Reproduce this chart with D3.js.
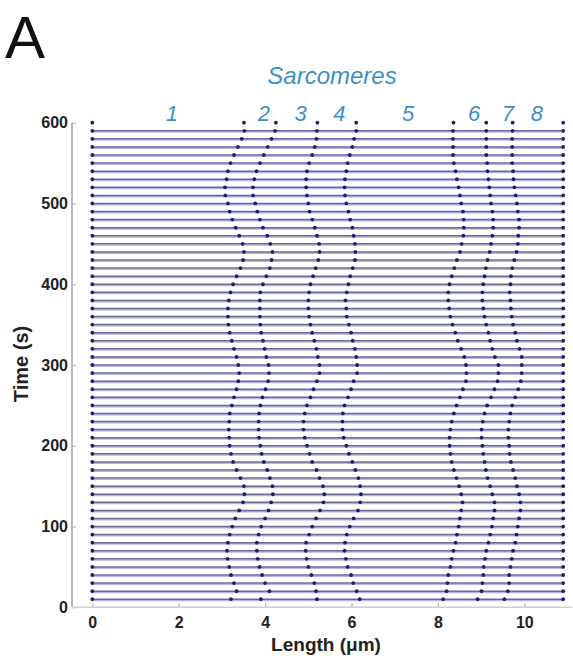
<!DOCTYPE html>
<html>
<head>
<meta charset="utf-8">
<script src="https://cdn.jsdelivr.net/npm/d3@7/dist/d3.min.js"></script>
<style>
  html, body { margin: 0; padding: 0; background: #fff; }
  svg { display: block; }
</style>
</head>
<body>
<svg id="chart" width="573" height="662"></svg>
<script>
// Sampling times (s), newest first
const times = [600, 590, 580, 570, 560, 550, 540, 530, 520, 510,
               500, 490, 480, 470, 460, 450, 440, 430, 420, 410,
               400, 390, 380, 370, 360, 350, 340, 330, 320, 310,
               300, 290, 280, 270, 260, 250, 240, 230, 220, 210,
               200, 190, 180, 170, 160, 150, 140, 130, 120, 110,
               100, 90, 80, 70, 60, 50, 40, 30, 20, 10];

// Z-disc positions along the myofibril (µm) at each time, same order as `times`
const zdisc1 = [3.51, 3.52, 3.46, 3.37, 3.28, 3.20, 3.14, 3.11, 3.07, 3.08,
                3.14, 3.18, 3.24, 3.32, 3.40, 3.48, 3.51, 3.49, 3.43, 3.34,
                3.26, 3.20, 3.16, 3.14, 3.14, 3.15, 3.18, 3.23, 3.28, 3.34,
                3.38, 3.40, 3.38, 3.34, 3.28, 3.23, 3.18, 3.17, 3.16, 3.17,
                3.18, 3.21, 3.26, 3.34, 3.43, 3.51, 3.52, 3.49, 3.40, 3.31,
                3.24, 3.18, 3.14, 3.12, 3.13, 3.17, 3.21, 3.28, 3.34, 3.21];
const zdisc2 = [4.25, 4.23, 4.15, 4.06, 3.97, 3.88, 3.80, 3.75, 3.72, 3.72,
                3.77, 3.82, 3.88, 3.95, 4.05, 4.12, 4.17, 4.15, 4.11, 4.03,
                3.95, 3.89, 3.88, 3.88, 3.88, 3.89, 3.91, 3.95, 3.99, 4.03,
                4.08, 4.09, 4.07, 4.01, 3.94, 3.89, 3.86, 3.85, 3.85, 3.86,
                3.89, 3.92, 3.97, 4.05, 4.11, 4.17, 4.18, 4.14, 4.08, 4.00,
                3.91, 3.85, 3.81, 3.81, 3.83, 3.87, 3.93, 4.00, 4.10, 3.90];
const zdisc3 = [5.21, 5.20, 5.19, 5.15, 5.09, 5.02, 4.97, 4.95, 4.95, 4.97,
                5.00, 5.03, 5.09, 5.15, 5.20, 5.25, 5.26, 5.23, 5.17, 5.11,
                5.05, 5.02, 5.00, 5.00, 5.02, 5.05, 5.09, 5.14, 5.19, 5.22,
                5.26, 5.26, 5.20, 5.12, 5.05, 4.97, 4.92, 4.89, 4.89, 4.92,
                4.97, 5.03, 5.09, 5.19, 5.26, 5.34, 5.37, 5.35, 5.27, 5.18,
                5.09, 5.02, 4.95, 4.94, 4.96, 5.00, 5.07, 5.14, 5.18, 5.20];
const zdisc4 = [6.11, 6.11, 6.06, 6.02, 5.96, 5.91, 5.88, 5.85, 5.84, 5.85,
                5.88, 5.93, 5.97, 6.02, 6.05, 6.08, 6.09, 6.08, 6.03, 5.97,
                5.93, 5.89, 5.86, 5.88, 5.89, 5.94, 5.99, 6.03, 6.08, 6.11,
                6.13, 6.13, 6.05, 5.99, 5.92, 5.84, 5.80, 5.79, 5.79, 5.82,
                5.88, 5.94, 6.02, 6.09, 6.16, 6.20, 6.22, 6.20, 6.15, 6.05,
                5.96, 5.89, 5.85, 5.84, 5.87, 5.91, 5.99, 6.04, 6.12, 6.19];
const zdisc5 = [8.36, 8.35, 8.35, 8.35, 8.35, 8.37, 8.41, 8.44, 8.48, 8.51,
                8.54, 8.58, 8.60, 8.60, 8.59, 8.55, 8.51, 8.44, 8.38, 8.32,
                8.27, 8.24, 8.24, 8.26, 8.29, 8.34, 8.40, 8.46, 8.54, 8.61,
                8.65, 8.66, 8.65, 8.58, 8.51, 8.43, 8.37, 8.32, 8.29, 8.27,
                8.27, 8.29, 8.32, 8.37, 8.43, 8.49, 8.54, 8.57, 8.54, 8.51,
                8.48, 8.44, 8.41, 8.36, 8.32, 8.29, 8.24, 8.22, 8.20, 8.12];
const zdisc6 = [9.12, 9.12, 9.12, 9.12, 9.12, 9.14, 9.15, 9.17, 9.19, 9.21,
                9.23, 9.26, 9.28, 9.28, 9.26, 9.23, 9.20, 9.15, 9.11, 9.08,
                9.05, 9.03, 9.03, 9.05, 9.08, 9.12, 9.17, 9.21, 9.26, 9.32,
                9.40, 9.40, 9.38, 9.31, 9.23, 9.14, 9.08, 9.04, 9.01, 9.01,
                9.03, 9.05, 9.08, 9.11, 9.15, 9.21, 9.26, 9.31, 9.31, 9.28,
                9.25, 9.21, 9.17, 9.12, 9.09, 9.06, 9.05, 9.03, 9.01, 8.92];
const zdisc7 = [9.73, 9.73, 9.72, 9.72, 9.72, 9.72, 9.74, 9.75, 9.77, 9.80,
                9.83, 9.85, 9.88, 9.88, 9.86, 9.85, 9.82, 9.77, 9.72, 9.69,
                9.68, 9.66, 9.68, 9.69, 9.71, 9.74, 9.79, 9.83, 9.89, 9.94,
                9.94, 9.94, 9.92, 9.86, 9.79, 9.72, 9.68, 9.65, 9.63, 9.63,
                9.65, 9.66, 9.69, 9.74, 9.79, 9.83, 9.88, 9.91, 9.91, 9.88,
                9.85, 9.82, 9.79, 9.74, 9.71, 9.68, 9.65, 9.65, 9.62, 9.54];
// Fixed ends of the fibre (µm)
const fibreStart = 0;
const fibreEnd = 10.9;

// Sarcomere numbers and where their labels sit (µm)
const sarcomereIds = ["1", "2", "3", "4", "5", "6", "7", "8"];
const sarcomereLabelX = [1.84, 3.97, 4.82, 5.72, 7.31, 8.84, 9.62, 10.29];

// Axis ticks
const xTicks = [0, 2, 4, 6, 8, 10];
const yTicks = [0, 100, 200, 300, 400, 500, 600];

const svg = d3.select("#chart");
const x = d3.scaleLinear().domain([0, 10]).range([92.3, 524.3]);
const y = d3.scaleLinear().domain([0, 600]).range([607.3, 122.7]);

const tickFont = "'Liberation Sans', Arial, Helvetica, sans-serif";

// Rows: one per time sample
const rows = times.map((t, i) => ({
  t,
  discs: [fibreStart, zdisc1[i], zdisc2[i], zdisc3[i], zdisc4[i],
          zdisc5[i], zdisc6[i], zdisc7[i], fibreEnd]
}));

// Horizontal fibre traces (the newest sample carries only its Z-disc markers)
const traces = svg.append("g");
const traced = rows.filter(r => r.t < d3.max(times));
traces.selectAll("line.halo").data(traced).join("line")
  .attr("class", "halo")
  .attr("x1", x(fibreStart)).attr("x2", x(fibreEnd))
  .attr("y1", d => y(d.t) + 1.2).attr("y2", d => y(d.t) + 1.2)
  .attr("stroke", "#b4b4ee").attr("stroke-width", 1.6);
traces.selectAll("line.core").data(traced).join("line")
  .attr("class", "core")
  .attr("x1", x(fibreStart)).attr("x2", x(fibreEnd))
  .attr("y1", d => y(d.t)).attr("y2", d => y(d.t))
  .attr("stroke", "#6c6c8c").attr("stroke-width", 1.5);

// Z-disc markers
const marks = svg.append("g");
rows.forEach(r => {
  marks.selectAll(null).data(r.discs).join("circle")
    .attr("cx", d => x(d)).attr("cy", y(r.t)).attr("r", 1.9)
    .attr("fill", "#1e1e6a");
});

// Axes
const axisColor = "#b8b8b8";
const yAxis = svg.append("g").attr("transform", `translate(${x(-0.47)},0)`)
  .call(d3.axisLeft(y).tickValues(yTicks).tickSize(-4).tickSizeOuter(0).tickPadding(4));
const xAxis = svg.append("g").attr("transform", `translate(0,${y(0)})`)
  .call(d3.axisBottom(x).tickValues(xTicks).tickSize(-4).tickSizeOuter(0).tickPadding(9));
[yAxis, xAxis].forEach(g => {
  g.select(".domain").remove();
  g.selectAll(".tick line").attr("stroke", axisColor).attr("stroke-width", 1.2);
  g.selectAll(".tick text")
    .attr("fill", "#222").attr("font-family", tickFont)
    .attr("font-weight", "bold").attr("font-size", 16);
});
svg.append("line")
  .attr("x1", x(-0.47)).attr("x2", x(-0.47))
  .attr("y1", y(0)).attr("y2", y(600))
  .attr("stroke", axisColor).attr("stroke-width", 2);
svg.append("line")
  .attr("x1", x(-0.47)).attr("x2", x(11.1))
  .attr("y1", y(0)).attr("y2", y(0))
  .attr("stroke", "#cfcfc8").attr("stroke-width", 1.6);

// Axis titles
svg.append("text")
  .attr("x", 326).attr("y", 651)
  .attr("text-anchor", "middle")
  .attr("font-family", tickFont).attr("font-weight", "bold").attr("font-size", 19)
  .attr("fill", "#222")
  .text("Length (\u03bcm)");
svg.append("text")
  .attr("transform", "translate(28,364) rotate(-90)")
  .attr("text-anchor", "middle")
  .attr("font-family", tickFont).attr("font-weight", "bold").attr("font-size", 20)
  .attr("fill", "#222")
  .text("Time (s)");

// Panel letter
svg.append("text")
  .attr("x", 5).attr("y", 58)
  .attr("font-family", tickFont).attr("font-size", 60)
  .attr("fill", "#111")
  .text("A");

// Sarcomere annotations
const noteColor = "#3d8fc6";
svg.append("text")
  .attr("x", 332).attr("y", 84)
  .attr("text-anchor", "middle")
  .attr("font-family", tickFont).attr("font-style", "italic").attr("font-size", 24)
  .attr("fill", noteColor)
  .text("Sarcomeres");
svg.append("g").selectAll("text").data(sarcomereIds).join("text")
  .attr("x", (d, i) => x(sarcomereLabelX[i]))
  .attr("y", 121)
  .attr("text-anchor", "middle")
  .attr("font-family", tickFont).attr("font-style", "italic").attr("font-size", 22)
  .attr("fill", noteColor)
  .text(d => d);
</script>
</body>
</html>
